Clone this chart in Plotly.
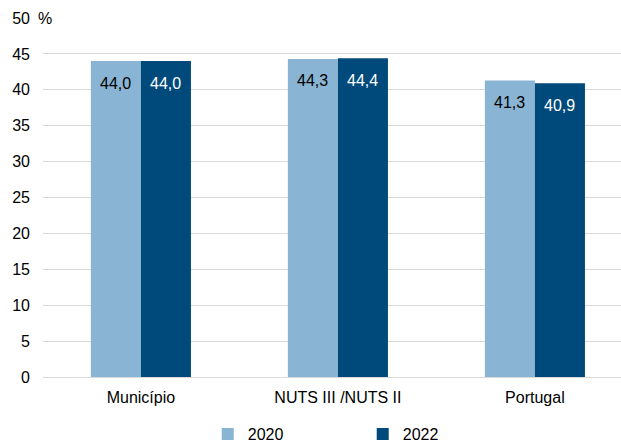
import plotly.graph_objects as go

categories = ["Município", "NUTS III /NUTS II", "Portugal"]
v2020 = [44.0, 44.3, 41.3]
v2022 = [44.0, 44.4, 40.9]
series_names = ["2020", "2022"]
colors = ["#8ab4d3", "#004a7b"]
label_colors = ["#000000", "#ffffff"]

FONT = "Liberation Sans, Arial"
FS = 16

def fmt(v):
    return f"{v:.1f}".replace(".", ",")

fig = go.Figure()
for name, vals, col in zip(series_names, [v2020, v2022], colors):
    fig.add_trace(go.Bar(
        x=categories, y=vals, name=name,
        marker=dict(color=col, line=dict(width=0)),
    ))

annotations = []
for si, (vals, lc) in enumerate(zip([v2020, v2022], label_colors)):
    for ci, (cat, v) in enumerate(zip(categories, vals)):
        annotations.append(dict(
            x=cat, y=v, xref="x", yref="y", text=fmt(v), showarrow=False,
            xshift=(-25 if si == 0 else 25), yshift=-22,
            font=dict(size=FS, color=lc, family=FONT),
            xanchor="center", yanchor="middle",
        ))
annotations.append(dict(
    text="%", x=0, xref="paper", y=50, yref="y",
    xanchor="left", yanchor="middle", showarrow=False,
    font=dict(size=FS, family=FONT), xshift=-7,
))

fig.update_layout(
    width=621, height=443,
    margin=dict(l=43, r=0, t=18, b=66, autoexpand=False),
    paper_bgcolor="white", plot_bgcolor="white",
    barmode="group", bargap=0.492, bargroupgap=0,
    font=dict(family=FONT, size=FS, color="#000000"),
    xaxis=dict(
        range=[-0.497, 2.437], showgrid=False, showline=True,
        linecolor="#d9d9d9", linewidth=1, ticks="", automargin=False,
        tickfont=dict(size=FS), ticklabelstandoff=6,
    ),
    yaxis=dict(
        range=[0, 50], dtick=5, showgrid=True, gridcolor="#d9d9d9",
        gridwidth=1, zeroline=False, ticks="", tickfont=dict(size=FS),
        ticklabelstandoff=12, automargin=False,
    ),
    showlegend=True,
    legend=dict(
        orientation="h", x=0.285, xanchor="left", y=-0.112, yanchor="top",
        font=dict(size=FS), traceorder="normal", itemwidth=30,
        entrywidth=110,
    ),
    annotations=annotations,
)

fig.write_html(
    "out.html",
    config={"displayModeBar": False},
    post_script="document.body.style.margin='0';document.body.style.padding='0';document.body.style.overflow='hidden';",
)
